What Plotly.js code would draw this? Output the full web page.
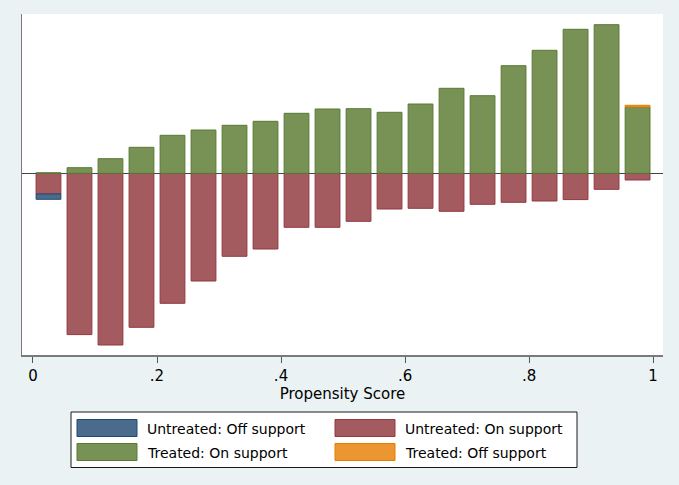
<!DOCTYPE html>
<html>
<head>
<meta charset="utf-8">
<script src="https://cdn.plot.ly/plotly-3.0.1.min.js"></script>
<style>html,body{margin:0;padding:0;background:#eaf2f3;}</style>
</head>
<body>
<div id="chart" style="width:679px;height:485px;"></div>
<script>
// Bin centres of propensity score (bin width 0.05)
const binCenters = [0.025,0.075,0.125,0.175,0.225,0.275,0.325,0.375,0.425,0.475,
                    0.525,0.575,0.625,0.675,0.725,0.775,0.825,0.875,0.925,0.975];
// Frequencies (arbitrary units)
const treatedOn    = [0.5,5.6,14.6,26,38,43.3,48,52,60,64.3,64.6,61,69.3,85,77.6,107.6,123,144,148.6,66.3];
const treatedOff   = [null,null,null,null,null,null,null,null,null,null,null,null,null,null,null,null,null,null,null,1.7];
const untreatedOn  = [20.7,161.3,171.7,154,130,107.7,83,75.7,54,54,48,35.7,35,38,31,29,27.7,26.3,16,6.7];
const untreatedOff = [5.3,null,null,null,null,null,null,null,null,null,null,null,null,null,null,null,null,null,null,null];
const tickVals = [0,0.2,0.4,0.6,0.8,1];
const tickText = ['0','.2','.4','.6','.8','1'];
const legendNames = ['Untreated: Off support','Untreated: On support','Treated: On support','Treated: Off support'];

const neg = a => a.map(v => v === null ? null : -v);
const font = 'DejaVu Sans, Liberation Sans, Arial, sans-serif';

const colors = {
  uoff: {fill:'#4a6b8c', line:'#1f4b73'},
  uon:  {fill:'#a45b60', line:'#92383e'},
  ton:  {fill:'#789155', line:'#587a33'},
  toff: {fill:'#ec9632', line:'#e37e00'}
};

function bar(y, c, name){
  return {type:'bar', x:binCenters, y:y, width:0.04, name:name,
          marker:{color:c.fill, line:{color:c.line, width:1}}, hoverinfo:'x+y'};
}

const data = [
  bar(neg(untreatedOn), colors.uon, legendNames[1]),
  bar(neg(untreatedOff), colors.uoff, legendNames[0]),
  bar(treatedOn, colors.ton, legendNames[2]),
  bar(treatedOff, colors.toff, legendNames[3])
];

// custom legend (paper coords)
const W = 641, H = 341;
const px = x => (x-22)/W, py = y => (355-y)/H;
const shapes = [
  {type:'rect', xref:'paper', yref:'paper', x0:px(71), x1:px(577), y0:py(412), y1:py(467.5),
   fillcolor:'#ffffff', line:{color:'#1a1a1a', width:1}},
  {type:'rect', xref:'paper', yref:'paper', x0:px(77), x1:px(137), y0:py(419.5), y1:py(436.5),
   fillcolor:colors.uoff.fill, line:{color:colors.uoff.line, width:1}},
  {type:'rect', xref:'paper', yref:'paper', x0:px(335), x1:px(395), y0:py(419.5), y1:py(436.5),
   fillcolor:colors.uon.fill, line:{color:colors.uon.line, width:1}},
  {type:'rect', xref:'paper', yref:'paper', x0:px(77), x1:px(137), y0:py(443.5), y1:py(460.5),
   fillcolor:colors.ton.fill, line:{color:colors.ton.line, width:1}},
  {type:'rect', xref:'paper', yref:'paper', x0:px(335), x1:px(395), y0:py(443.5), y1:py(460.5),
   fillcolor:colors.toff.fill, line:{color:colors.toff.line, width:1}}
];
function lab(text, x, y){
  return {xref:'paper', yref:'paper', x:px(x), y:py(y), text:text, showarrow:false,
          xanchor:'left', yanchor:'middle', font:{family:font, size:14, color:'#000'}};
}
const annotations = [
  lab(legendNames[0], 145, 429),
  lab(legendNames[1], 403, 429),
  lab(legendNames[2], 145, 453),
  lab(legendNames[3], 403, 453)
];

const layout = {
  width:679, height:485,
  margin:{l:22, r:16, t:14, b:130},
  paper_bgcolor:'#eaf2f3', plot_bgcolor:'#ffffff',
  barmode:'relative', bargap:0,
  showlegend:false,
  font:{family:font, size:15, color:'#000'},
  xaxis:{range:[-0.0177,1.016], tickvals:tickVals, ticktext:tickText,
         ticks:'outside', ticklen:6, tickwidth:1, tickcolor:'#555',
         showline:true, linecolor:'#7a7a7a', linewidth:1.5, showgrid:false, zeroline:false,
         tickfont:{family:font, size:15, color:'#000'},
         title:{text:'Propensity Score', font:{family:font, size:15, color:'#000'}, standoff:5}},
  yaxis:{range:[-181.7,159.3], showticklabels:false, ticks:'', showgrid:false,
         showline:true, linecolor:'#7a7a7a', linewidth:1.5,
         zeroline:true, zerolinecolor:'#444', zerolinewidth:1.2},
  shapes:shapes, annotations:annotations
};

Plotly.newPlot('chart', data, layout, {displayModeBar:false, staticPlot:true});
</script>
</body>
</html>
